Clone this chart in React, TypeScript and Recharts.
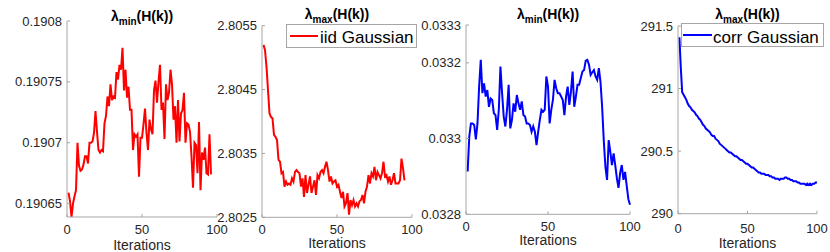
import React from 'react';
import { LineChart, Line, XAxis, YAxis, Legend, Label } from 'recharts';

const W = 830;
const H = 252;
const AXIS = '#a6a6a6';
const TXT = '#262626';
const FONT = '"Liberation Sans", Arial, Helvetica, sans-serif';

const xTicks = [0, 50, 100];

// iid Gaussian, lambda_min
const iidMin = [
  0.190659, 0.190652, 0.190639, 0.19065, 0.190656, 0.190661, 0.1907, 0.190681, 0.190677, 0.190678,
  0.190682, 0.190689, 0.190689, 0.190683, 0.1907, 0.1907, 0.190701, 0.190708, 0.190726, 0.190709,
  0.190694, 0.190692, 0.190694, 0.190693, 0.190716, 0.190722, 0.190738, 0.19073, 0.190748, 0.190735,
  0.190738, 0.190737, 0.190758, 0.190752, 0.190764, 0.19076, 0.190778, 0.190743, 0.19076, 0.190737,
  0.190746, 0.190727, 0.190727, 0.190694, 0.190707, 0.190705, 0.190707, 0.190672, 0.190704, 0.190704,
  0.190715, 0.190728, 0.190708, 0.190694, 0.190719, 0.190711, 0.190707, 0.190743, 0.190751, 0.190733,
  0.19075, 0.190764, 0.190727, 0.190733, 0.190703, 0.190748, 0.190735, 0.190741, 0.19076, 0.190748,
  0.190719, 0.19073, 0.1907, 0.190735, 0.190701, 0.190724, 0.190727, 0.190741, 0.1907, 0.190716,
  0.190715, 0.190709, 0.190689, 0.190663, 0.1907, 0.190698, 0.190675, 0.190717, 0.190661, 0.190692,
  0.190686, 0.190696, 0.190675, 0.190674, 0.190707, 0.190674,
];

// iid Gaussian, lambda_max
const iidMax = [
  2.8052, 2.80512, 2.80486, 2.80449, 2.80413, 2.80407, 2.80405, 2.80379, 2.80376, 2.80371,
  2.8034, 2.80337, 2.80319, 2.80321, 2.80298, 2.80306, 2.80301, 2.80303, 2.80301, 2.80311,
  2.80306, 2.80321, 2.80324, 2.80321, 2.80319, 2.80298, 2.80311, 2.80282, 2.80316, 2.80288,
  2.80301, 2.80314, 2.80288, 2.80298, 2.80308, 2.80285, 2.80316, 2.80311, 2.80321, 2.80324,
  2.80319, 2.80329, 2.80337, 2.80324, 2.80306, 2.80314, 2.80303, 2.80306, 2.80308, 2.80298,
  2.80301, 2.8029, 2.8028, 2.8029, 2.80267, 2.80272, 2.80288, 2.80254, 2.80277, 2.80269,
  2.80277, 2.80267, 2.80272, 2.80267, 2.80275, 2.80277, 2.80285, 2.80272, 2.8029, 2.80298,
  2.80316, 2.80303, 2.80319, 2.80314, 2.80329, 2.80308, 2.80321, 2.80316, 2.80311, 2.80319,
  2.80337, 2.80314, 2.80316, 2.80306, 2.80314, 2.80301, 2.80308, 2.80319, 2.80303, 2.80303,
  2.80303, 2.80308, 2.80342, 2.80327, 2.80308,
];

// corr Gaussian, lambda_min
const corrMin = [
  0.032913, 0.033005, 0.03304, 0.03304, 0.033036, 0.032998, 0.03304, 0.033137, 0.033208, 0.03312,
  0.033146, 0.033111, 0.033128, 0.033084, 0.033106, 0.033102, 0.033067, 0.033062, 0.033023, 0.033076,
  0.03319, 0.03312, 0.033058, 0.033032, 0.033076, 0.033142, 0.033027, 0.033049, 0.033093, 0.033071,
  0.033115, 0.033093, 0.033076, 0.033098, 0.033062, 0.033058, 0.03304, 0.03304, 0.033036, 0.033018,
  0.033032, 0.033018, 0.032983, 0.033018, 0.033049, 0.033076, 0.033071, 0.033076, 0.033164, 0.033137,
  0.03304, 0.033076, 0.033102, 0.033155, 0.033133, 0.03312, 0.03312, 0.033111, 0.033102, 0.033062,
  0.033111, 0.033137, 0.033089, 0.033124, 0.033177, 0.033084, 0.033111, 0.033142, 0.033142, 0.03316,
  0.033177, 0.033181, 0.033206, 0.033208, 0.033195, 0.033168, 0.033175, 0.033181, 0.033164, 0.033155,
  0.033186, 0.03315, 0.033084, 0.032996, 0.032926, 0.032891, 0.032996, 0.032965, 0.03293, 0.032961,
  0.03293, 0.032895, 0.03287, 0.03291, 0.03293, 0.032891, 0.032912, 0.032875, 0.03284, 0.032825,
];

// corr Gaussian, lambda_max
const corrMax = [
  291.41, 291.17, 290.97, 290.95, 290.93, 290.91, 290.88, 290.86, 290.85, 290.83,
  290.82, 290.81, 290.79, 290.78, 290.76, 290.75, 290.73, 290.71, 290.7, 290.68,
  290.67, 290.66, 290.65, 290.63, 290.62, 290.62, 290.6, 290.59, 290.58, 290.56,
  290.55, 290.54, 290.53, 290.52, 290.51, 290.5, 290.49, 290.49, 290.48, 290.47,
  290.46, 290.46, 290.45, 290.44, 290.43, 290.43, 290.42, 290.41, 290.4, 290.4,
  290.39, 290.38, 290.37, 290.37, 290.36, 290.35, 290.34, 290.33, 290.33, 290.32,
  290.32, 290.32, 290.31, 290.31, 290.31, 290.3, 290.3, 290.29, 290.29, 290.28,
  290.28, 290.28, 290.27, 290.28, 290.28, 290.28, 290.29, 290.29, 290.28, 290.28,
  290.27, 290.27, 290.26, 290.26, 290.26, 290.25, 290.25, 290.24, 290.24, 290.24,
  290.24, 290.23, 290.24, 290.23, 290.24, 290.23, 290.24, 290.24, 290.25, 290.25,
];

const yTicksIidMin = [0.19065, 0.1907, 0.19075, 0.1908];
const yTicksIidMax = [2.8025, 2.8035, 2.8045, 2.8055];
const yTicksCorrMin = [0.0328, 0.033, 0.0332, 0.0333];
const yTicksCorrMax = [290, 290.5, 291, 291.5];

const toRows = (vals: number[]) => vals.map((v, i) => ({ k: i + 1, v }));

const panels = [
  {
    id: 'p1', values: iidMin, domain: [0.190639, 0.1908], ticks: yTicksIidMin, sub: 'min', color: '#ff0000',
    box: { l: 67, r: 217, t: 21, b: 217 }, titleY: 20.5, tickOff: 16.5, xlabOff: 32.5, legend: null as any,
  },
  {
    id: 'p2', values: iidMax, domain: [2.8025, 2.8055], ticks: yTicksIidMax, sub: 'max', color: '#ff0000',
    box: { l: 262, r: 412, t: 25.7, b: 217.3 }, titleY: 18.5, tickOff: 16.5, xlabOff: 31,
    legend: { text: 'iid Gaussian', x: 286, y: 24, w: 131, h: 24, lx: 4, lw: 28, ly: 12, tx: 34, ty: 19 },
  },
  {
    id: 'p3', values: corrMin, domain: [0.0328, 0.0333], ticks: yTicksCorrMin, sub: 'min', color: '#0000ff',
    box: { l: 466, r: 630, t: 25, b: 214.3 }, titleY: 18.5, tickOff: 17, xlabOff: 30.5, legend: null as any,
  },
  {
    id: 'p4', values: corrMax, domain: [290, 291.5], ticks: yTicksCorrMax, sub: 'max', color: '#0000ff',
    box: { l: 678, r: 817, t: 26, b: 213.7 }, titleY: 18.5, tickOff: 19.5, xlabOff: 34,
    legend: { text: 'corr Gaussian', x: 681, y: 23, w: 143, h: 24, lx: 2, lw: 29, ly: 12, tx: 32, ty: 19.5 },
  },
];

const XTick = ({ x, y, payload, off }: any) => (
  <g>
    <line x1={x} x2={x} y1={y} y2={y - 3} stroke={AXIS} />
    <text x={x} y={y + off} textAnchor="middle" fontSize={13} fill={TXT} fontFamily={FONT}>
      {payload.value}
    </text>
  </g>
);

const YTick = ({ x, y, payload }: any) => (
  <g>
    <line x1={x} x2={x + 3} y1={y} y2={y} stroke={AXIS} />
    <text x={x - 5} y={y + 4.5} textAnchor="end" fontSize={13} fill={TXT} fontFamily={FONT}>
      {String(payload.value)}
    </text>
  </g>
);

const LegendBox = ({ lg, color }: any) => (
  <svg width={lg.w} height={lg.h} style={{ display: 'block' }}>
    <rect x={0.5} y={0.5} width={lg.w - 1} height={lg.h - 1} fill="#fff" stroke={AXIS} />
    <line x1={lg.lx} x2={lg.lx + lg.lw} y1={lg.ly} y2={lg.ly} stroke={color} strokeWidth={2} />
    <text x={lg.tx} y={lg.ty} fontSize={17} fill="#000" fontFamily={FONT}>{lg.text}</text>
  </svg>
);

export default function App() {
  return (
    <div style={{ position: 'absolute', left: 0, top: 0, width: W, height: H, background: '#fff' }}>
      {panels.map((p) => (
        <div key={p.id} style={{ position: 'absolute', left: 0, top: 0 }}>
          <LineChart
            width={W}
            height={H}
            data={toRows(p.values)}
            margin={{ top: p.box.t, bottom: H - p.box.b - 1, left: p.box.l - 1, right: W - p.box.r }}
          >
            <XAxis
              dataKey="k"
              type="number"
              domain={[0, 100]}
              ticks={xTicks}
              height={1}
              tickSize={0}
              tickMargin={0}
              tickLine={false}
              axisLine={{ stroke: AXIS }}
              tick={<XTick off={p.tickOff} />}
              label={
                <Label
                  content={({ viewBox }: any) => (
                    <text
                      x={viewBox.x + viewBox.width / 2}
                      y={viewBox.y + p.xlabOff}
                      textAnchor="middle"
                      fontSize={14}
                      fill={TXT}
                      fontFamily={FONT}
                    >
                      Iterations
                    </text>
                  )}
                />
              }
            />
            <YAxis
              type="number"
              domain={p.domain}
              ticks={p.ticks}
              width={1}
              tickSize={0}
              tickMargin={0}
              tickLine={false}
              axisLine={{ stroke: AXIS }}
              tick={<YTick />}
            />
            {p.legend && (
              <Legend
                layout="horizontal"
                verticalAlign="middle"
                align="center"
                wrapperStyle={{ left: p.legend.x, top: p.legend.y, width: p.legend.w, height: p.legend.h }}
                content={() => <LegendBox lg={p.legend} color={p.color} />}
              />
            )}
            <Line
              dataKey="v"
              type="linear"
              stroke={p.color}
              strokeWidth={2}
              dot={false}
              isAnimationActive={false}
            />
          </LineChart>
        </div>
      ))}
      <svg width={W} height={H} style={{ position: 'absolute', left: 0, top: 0, pointerEvents: 'none' }}>
        {panels.map((p) => (
          <text
            key={p.id}
            x={(p.box.l + p.box.r) / 2}
            y={p.titleY}
            textAnchor="middle"
            fontSize={14}
            fontWeight="bold"
            fill="#000"
            fontFamily={FONT}
          >
            λ
            <tspan fontSize={10} dy={4}>{p.sub}</tspan>
            <tspan dy={-4}>(H(k))</tspan>
          </text>
        ))}
      </svg>
    </div>
  );
}
